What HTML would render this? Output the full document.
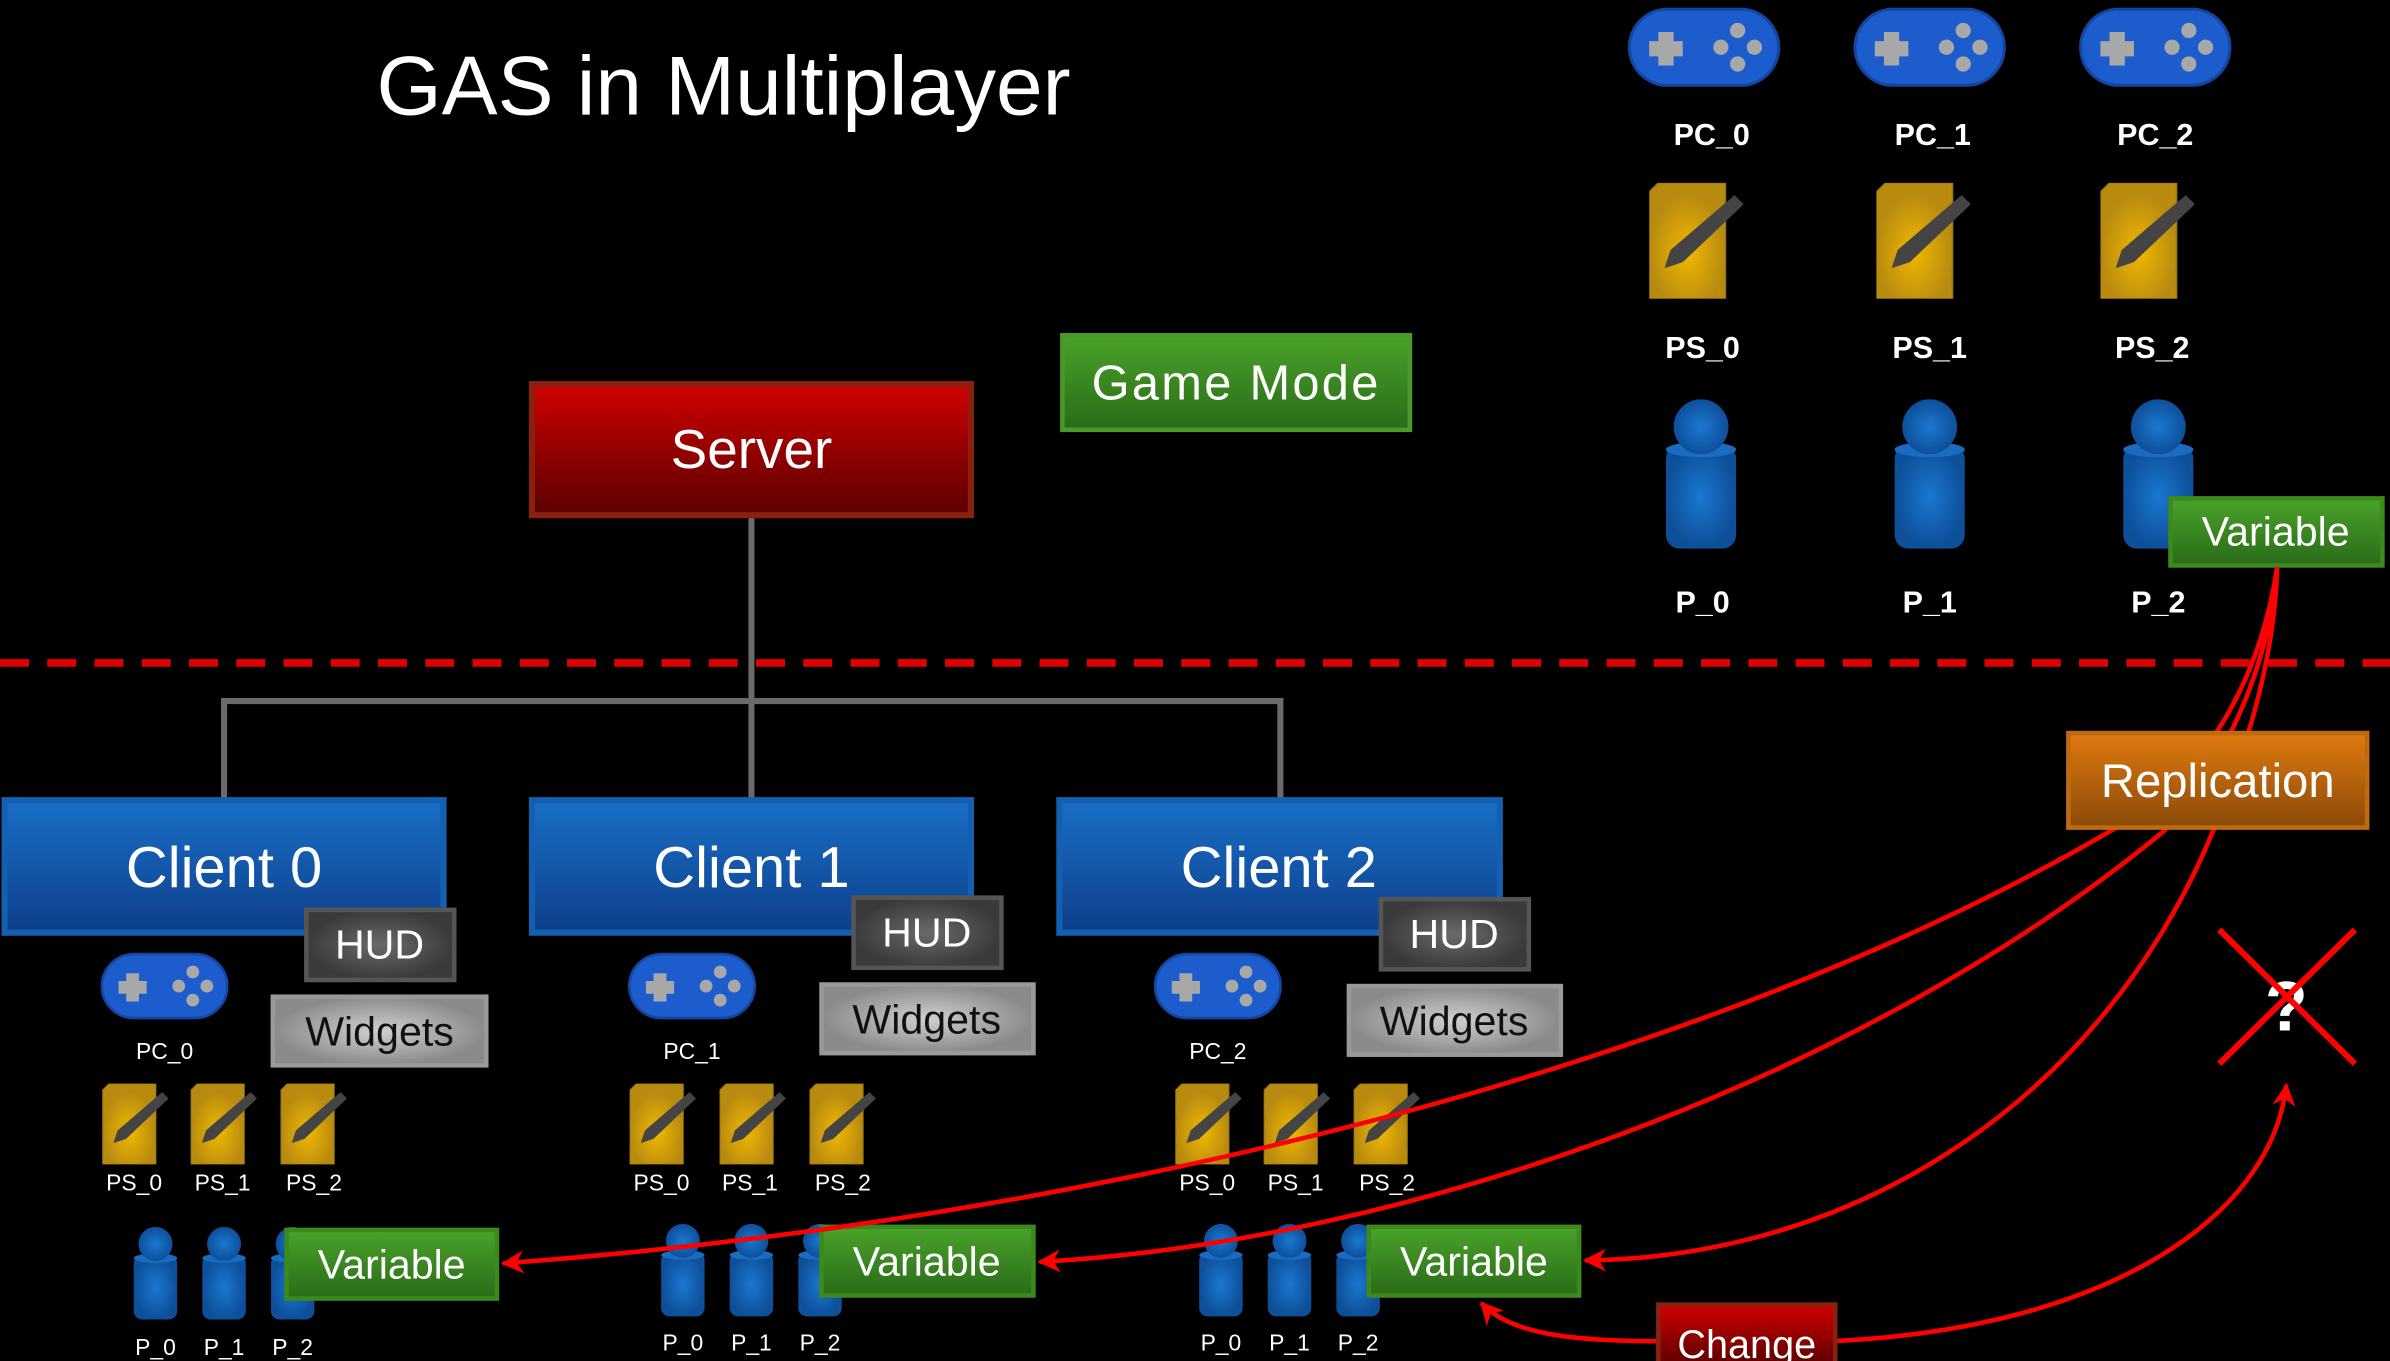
<!DOCTYPE html>
<html><head><meta charset="utf-8"><style>html,body{margin:0;padding:0;background:#000;}svg{display:block}</style></head>
<body>
<svg width="2390" height="1361" viewBox="0 0 1568 893" preserveAspectRatio="none" xmlns="http://www.w3.org/2000/svg" font-family="Liberation Sans, sans-serif">
<defs>
<linearGradient id="gRed" x1="0" y1="0" x2="0" y2="1"><stop offset="0" stop-color="#d00000"/><stop offset="1" stop-color="#5a0000"/></linearGradient>
<linearGradient id="gGreen" x1="0" y1="0" x2="0" y2="1"><stop offset="0" stop-color="#4aa32a"/><stop offset="1" stop-color="#2a6a18"/></linearGradient>
<linearGradient id="gBlue" x1="0" y1="0" x2="0" y2="1"><stop offset="0" stop-color="#1a6fc8"/><stop offset="1" stop-color="#0d3f8a"/></linearGradient>
<linearGradient id="gOrange" x1="0" y1="0" x2="0" y2="1"><stop offset="0" stop-color="#e07a10"/><stop offset="1" stop-color="#8a4a08"/></linearGradient>
<radialGradient id="gDark"><stop offset="0" stop-color="#6a6a6a"/><stop offset="1" stop-color="#3a3a3a"/></radialGradient>
<radialGradient id="gLight"><stop offset="0" stop-color="#d0d0d0"/><stop offset="1" stop-color="#8a8a8a"/></radialGradient>
<radialGradient id="gYel" cx="0.5" cy="0.6"><stop offset="0" stop-color="#f0b800"/><stop offset="1" stop-color="#b88a10"/></radialGradient>
<radialGradient id="gPB" cx="0.5" cy="0.5"><stop offset="0" stop-color="#1a78d0"/><stop offset="1" stop-color="#0e4f9a"/></radialGradient>
<marker id="ar" viewBox="0 0 10 10" refX="9" refY="5" markerWidth="5" markerHeight="5" orient="auto"><path d="M0,0 L10,5 L0,10 L3,5 z" fill="#f00"/></marker>
<symbol id="pad" viewBox="0 0 100 52">
<rect x="1" y="1" width="98" height="50" rx="25" fill="#1d5ccc" stroke="#1246a0" stroke-width="2"/>
<path d="M20,16h10v6h6v10h-6v6h-10v-6h-6v-10h6z" fill="#a8a8a8"/>
<circle cx="72" cy="15" r="5" fill="#a8a8a8"/><circle cx="72" cy="37" r="5" fill="#a8a8a8"/><circle cx="61" cy="26" r="5" fill="#a8a8a8"/><circle cx="83" cy="26" r="5" fill="#a8a8a8"/>
</symbol>
<symbol id="ps" viewBox="0 0 62 76">
<path d="M6,0 H50 V76 H0 V6 z" fill="url(#gYel)" stroke="#9a7a10" stroke-width="1"/>
<path d="M56,8 L62,14 L22,52 L10,56 L14,44 z" fill="#444"/>
</symbol>
<symbol id="pp" viewBox="0 0 50 100">
<rect x="2" y="30" width="46" height="68" rx="9" fill="url(#gPB)"/>
<ellipse cx="25" cy="33" rx="23" ry="5" fill="#1a6cc0"/>
<circle cx="25" cy="18" r="18" fill="url(#gPB)"/>
</symbol>
</defs>
<rect width="1568" height="893" fill="#000"/>
<text x="247" y="75" font-size="55" fill="#fff">GAS in Multiplayer</text>

<g>
<use href="#pad" x="1068" y="5" width="100" height="52"/><use href="#pad" x="1216" y="5" width="100" height="52"/><use href="#pad" x="1364" y="5" width="100" height="52"/>
<g font-size="20" fill="#fff" text-anchor="middle" font-weight="bold"><text x="1123" y="95">PC_0</text><text x="1268" y="95">PC_1</text><text x="1414" y="95">PC_2</text>
<text x="1117" y="235">PS_0</text><text x="1266" y="235">PS_1</text><text x="1412" y="235">PS_2</text>
<text x="1117" y="402">P_0</text><text x="1266" y="402">P_1</text><text x="1416" y="402">P_2</text></g>
<use href="#ps" x="1082" y="120" width="62" height="76"/><use href="#ps" x="1231" y="120" width="62" height="76"/><use href="#ps" x="1378" y="120" width="62" height="76"/>
<use href="#pp" x="1091" y="262" width="50" height="100"/><use href="#pp" x="1241" y="262" width="50" height="100"/><use href="#pp" x="1391" y="262" width="50" height="100"/>
</g>

<line x1="0" y1="435" x2="1568" y2="435" stroke="#e00000" stroke-width="5" stroke-dasharray="19,12"/>

<g stroke="#6a6a6a" stroke-width="4" fill="none"><line x1="493" y1="338" x2="493" y2="526"/><polyline points="147,526 147,460 840,460 840,526"/></g>

<rect x="349" y="252" width="288" height="86" fill="url(#gRed)" stroke="#8a2010" stroke-width="4"/>
<text x="493" y="307" font-size="36" fill="#fff" text-anchor="middle">Server</text>
<rect x="697" y="220" width="228" height="62" fill="url(#gGreen)" stroke="#4a9a2a" stroke-width="3"/>
<text x="811" y="262" font-size="32" fill="#fff" text-anchor="middle" letter-spacing="1.5">Game Mode</text>

<g>
<rect x="3" y="525" width="288" height="87" fill="url(#gBlue)" stroke="#1460b0" stroke-width="4"/>
<rect x="349" y="525" width="288" height="87" fill="url(#gBlue)" stroke="#1460b0" stroke-width="4"/>
<rect x="695" y="525" width="289" height="87" fill="url(#gBlue)" stroke="#1460b0" stroke-width="4"/>
<g font-size="38" fill="#fff" text-anchor="middle"><text x="147" y="582">Client 0</text><text x="493" y="582">Client 1</text><text x="839" y="582">Client 2</text></g>
</g>

<g stroke-width="3">
<rect x="201" y="597" width="97" height="46" fill="url(#gDark)" stroke="#555"/>
<rect x="560" y="589" width="97" height="46" fill="url(#gDark)" stroke="#555"/>
<rect x="906" y="590" width="97" height="46" fill="url(#gDark)" stroke="#555"/>
<rect x="179" y="654" width="140" height="45" fill="url(#gLight)" stroke="#999"/>
<rect x="539" y="646" width="139" height="45" fill="url(#gLight)" stroke="#999"/>
<rect x="885" y="647" width="139" height="45" fill="url(#gLight)" stroke="#999"/>
</g>
<g font-size="27" text-anchor="middle">
<text x="249" y="629" fill="#fff">HUD</text><text x="608" y="621" fill="#fff">HUD</text><text x="954" y="622" fill="#fff">HUD</text>
<text x="249" y="686" fill="#111">Widgets</text><text x="608" y="678" fill="#111">Widgets</text><text x="954" y="679" fill="#111">Widgets</text>
</g>

<g>
<use href="#pad" x="66" y="625" width="84" height="44"/><use href="#pad" x="412" y="625" width="84" height="44"/><use href="#pad" x="757" y="625" width="84" height="44"/>
<use href="#ps" x="64" y="711" width="50" height="53"/><use href="#ps" x="122" y="711" width="50" height="53"/><use href="#ps" x="181" y="711" width="50" height="53"/>
<use href="#ps" x="410" y="711" width="50" height="53"/><use href="#ps" x="469" y="711" width="50" height="53"/><use href="#ps" x="528" y="711" width="50" height="53"/>
<use href="#ps" x="768" y="711" width="50" height="53"/><use href="#ps" x="826" y="711" width="50" height="53"/><use href="#ps" x="885" y="711" width="50" height="53"/>
<use href="#pp" x="86" y="805" width="32" height="62"/><use href="#pp" x="131" y="805" width="32" height="62"/><use href="#pp" x="176" y="805" width="32" height="62"/>
<use href="#pp" x="432" y="803" width="32" height="62"/><use href="#pp" x="477" y="803" width="32" height="62"/><use href="#pp" x="522" y="803" width="32" height="62"/>
<use href="#pp" x="785" y="803" width="32" height="62"/><use href="#pp" x="830" y="803" width="32" height="62"/><use href="#pp" x="875" y="803" width="32" height="62"/>
<g font-size="15" fill="#fff" text-anchor="middle">
<text x="108" y="695">PC_0</text><text x="454" y="695">PC_1</text><text x="799" y="695">PC_2</text>
<text x="88" y="781">PS_0</text><text x="146" y="781">PS_1</text><text x="206" y="781">PS_2</text>
<text x="434" y="781">PS_0</text><text x="492" y="781">PS_1</text><text x="553" y="781">PS_2</text>
<text x="792" y="781">PS_0</text><text x="850" y="781">PS_1</text><text x="910" y="781">PS_2</text>
<text x="102" y="889">P_0</text><text x="147" y="889">P_1</text><text x="192" y="889">P_2</text>
<text x="448" y="886">P_0</text><text x="493" y="886">P_1</text><text x="538" y="886">P_2</text>
<text x="801" y="886">P_0</text><text x="846" y="886">P_1</text><text x="891" y="886">P_2</text>
</g>
</g>

<g stroke="#3a8a1c" stroke-width="3">
<rect x="188" y="807" width="138" height="45" fill="url(#gGreen)"/>
<rect x="539" y="805" width="139" height="45" fill="url(#gGreen)"/>
<rect x="898" y="805" width="138" height="45" fill="url(#gGreen)"/>
<rect x="1424" y="327" width="139" height="44" fill="url(#gGreen)"/>
</g>
<g font-size="27" fill="#fff" text-anchor="middle">
<text x="257" y="839">Variable</text><text x="608" y="837">Variable</text><text x="967" y="837">Variable</text><text x="1493" y="358">Variable</text>
</g>

<g stroke="#f00" stroke-width="3" fill="none">
<path d="M1494,372 C1484,440 1450,510 1385,545 C1120,700 720,800 330,829" marker-end="url(#ar)"/>
<path d="M1494,372 C1488,440 1460,500 1420,545 C1220,710 920,815 682,828" marker-end="url(#ar)"/>
<path d="M1494,372 C1492,440 1470,500 1452,545 C1380,720 1220,825 1040,827" marker-end="url(#ar)"/>
<path d="M1090,880 C1030,880 990,875 972,855" marker-end="url(#ar)"/>
<path d="M1202,880 C1380,872 1490,800 1500,712" marker-end="url(#ar)"/>
</g>

<rect x="1357" y="481" width="196" height="62" fill="url(#gOrange)" stroke="#c06a10" stroke-width="3"/>
<text x="1455" y="523" font-size="31" fill="#fff" text-anchor="middle">Replication</text>

<text x="1500" y="676" font-size="46" fill="#fff" text-anchor="middle" font-weight="bold">?</text>
<g stroke="#f00" stroke-width="4"><line x1="1456" y1="610" x2="1545" y2="698"/><line x1="1545" y1="610" x2="1456" y2="698"/></g>

<rect x="1088" y="856" width="116" height="40" fill="url(#gRed)" stroke="#8a2010" stroke-width="3"/>
<text x="1146" y="891" font-size="26" fill="#fff" text-anchor="middle">Change</text>
</svg>
</body></html>
